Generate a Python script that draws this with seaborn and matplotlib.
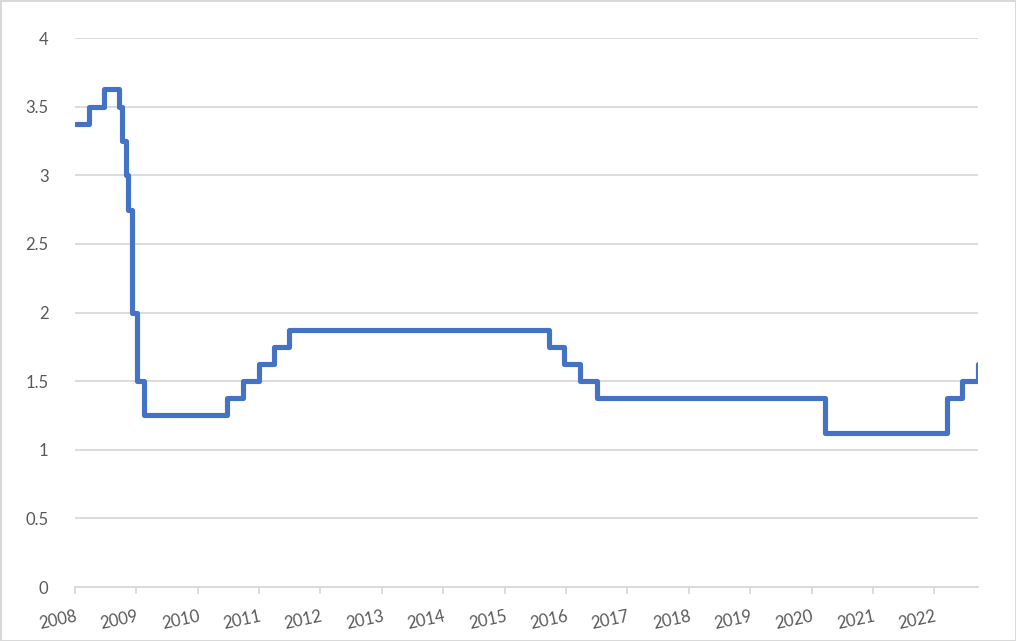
import pandas as pd
import matplotlib
matplotlib.use("Agg")
import matplotlib.pyplot as plt
import seaborn as sns

# Step change dates and the rate that applies from each date
change_dates = [
    "2008-01-01", "2008-03-26", "2008-06-22", "2008-09-21", "2008-10-05",
    "2008-10-31", "2008-11-14", "2008-12-04", "2009-01-06", "2009-02-15",
    "2010-06-23", "2010-09-25", "2011-01-01", "2011-03-28", "2011-06-28",
    "2015-09-24", "2015-12-20", "2016-03-25", "2016-07-01", "2020-03-21",
    "2022-03-17", "2022-06-14", "2022-09-16",
]
rates = [
    3.375, 3.5, 3.625, 3.5, 3.25,
    3.0, 2.75, 2.0, 1.5, 1.25,
    1.375, 1.5, 1.625, 1.75, 1.875,
    1.75, 1.625, 1.5, 1.375, 1.125,
    1.375, 1.5, 1.625,
]
year_labels = [str(y) for y in range(2008, 2023)]

df = pd.DataFrame({"date": pd.to_datetime(change_dates), "rate": rates})

sns.set_theme(style="white")
plt.rcParams["font.family"] = ["Lato", "DejaVu Sans"]

fig = plt.figure(figsize=(10.16, 6.41), dpi=100)
fig.patch.set_edgecolor("#d9d9d9")
fig.patch.set_linewidth(2)
ax = fig.add_axes([0.0738, 0.0842, 0.8885, 0.8565])

sns.lineplot(data=df, x="date", y="rate", ax=ax, color="#4472C4",
             linewidth=3.7, drawstyle="steps-post")

ax.set_ylim(0, 4)
ax.set_yticks([0, 0.5, 1, 1.5, 2, 2.5, 3, 3.5, 4])
ax.set_yticklabels(["0", "0.5", "1", "1.5", "2", "2.5", "3", "3.5", "4"])
ax.yaxis.grid(True, color="#d9d9d9", linewidth=1.3)
ax.set_axisbelow(True)

ax.set_xlim(df["date"].iloc[0], df["date"].iloc[-1])
ticks = pd.to_datetime([f"{y}-01-01" for y in year_labels])
ax.set_xticks(ticks)
ax.set_xticklabels(year_labels, rotation=12, ha="right", va="top",
                   rotation_mode="anchor")

for s in ["top", "right", "left"]:
    ax.spines[s].set_visible(False)
ax.spines["bottom"].set_color("#d9d9d9")
ax.spines["bottom"].set_linewidth(1.3)

ax.tick_params(axis="x", bottom=True, length=5, width=1.3, color="#d9d9d9",
               labelsize=12, labelcolor="#595959", pad=10)
ax.tick_params(axis="y", left=False, labelsize=12, labelcolor="#595959", pad=13)
ax.set_xlabel("")
ax.set_ylabel("")

fig.savefig("out.png", dpi=100, edgecolor=fig.get_edgecolor())
